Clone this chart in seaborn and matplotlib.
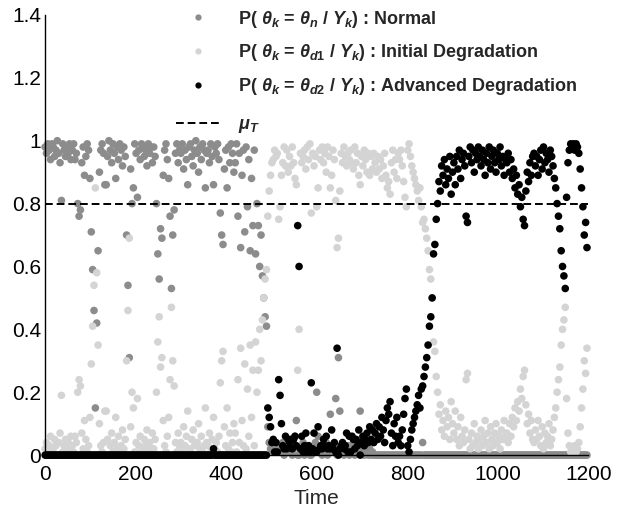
import numpy as np
import pandas as pd
import matplotlib
matplotlib.use("Agg")
import matplotlib.pyplot as plt
from matplotlib.lines import Line2D
from matplotlib.ticker import FuncFormatter
import seaborn as sns

# sampled time instants (one every 3 steps)
time = np.arange(0, 1200, 3)

# state probabilities in percent, one line = 20 samples = 60 time units
p_normal = [
    98, 96, 99, 97, 94, 99, 98, 95, 97, 100, 96, 93, 81, 99, 97, 95, 98, 96, 99, 94,
    97, 99, 94, 96, 80, 76, 78, 93, 98, 89, 95, 99, 97, 88, 71, 59, 46, 15, 42, 65,
    90, 97, 99, 96, 86, 86, 95, 100, 97, 93, 99, 96, 88, 98, 94, 99, 97, 92, 98, 95,
    70, 54, 31, 91, 80, 85, 99, 96, 82, 97, 94, 99, 98, 95, 97, 92, 99, 96, 98, 93,
    98, 95, 80, 64, 56, 72, 69, 89, 97, 99, 94, 88, 76, 53, 70, 78, 96, 99, 93, 97,
    96, 99, 91, 97, 94, 86, 98, 99, 95, 92, 97, 100, 96, 90, 98, 94, 99, 97, 85, 96,
    97, 93, 99, 95, 86, 98, 96, 99, 94, 77, 70, 67, 91, 97, 85, 98, 93, 99, 96, 90,
    93, 99, 76, 96, 66, 89, 97, 71, 98, 79, 94, 65, 88, 73, 97, 64, 80, 73, 60, 70,
    57, 50, 44, 41, 9, 4, 2, 3, 1, 2, 1, 3, 1, 2, 1, 4, 0, 2, 1, 5,
    1, 3, 0, 2, 6, 11, 0, 0, 2, 1, 4, 0, 2, 1, 3, 0, 0, 2, 1, 4,
    20, 6, 1, 3, 0, 2, 1, 4, 0, 2, 13, 3, 1, 2, 18, 0, 31, 14, 1, 3,
    0, 2, 1, 3, 0, 2, 1, 4, 0, 2, 1, 3, 14, 1, 2, 0, 1, 3, 0, 2,
    0, 1, 0, 0, 0, 0, 0, 0, 0, 0, 0, 0, 0, 0, 0, 0, 0, 0, 0, 0,
    0, 0, 0, 0, 0, 0, 0, 0, 0, 0, 0, 0, 0, 0, 0, 0, 0, 0, 4, 0,
    0, 0, 0, 0, 0, 0, 0, 0, 0, 0, 0, 0, 0, 0, 0, 0, 0, 0, 0, 0,
    0, 0, 0, 0, 0, 0, 0, 0, 0, 0, 0, 0, 0, 0, 0, 0, 0, 0, 0, 0,
    0, 0, 0, 0, 0, 0, 0, 0, 0, 0, 0, 0, 0, 0, 0, 0, 0, 0, 0, 0,
    0, 0, 0, 0, 0, 0, 0, 0, 0, 0, 0, 0, 0, 0, 0, 0, 0, 0, 0, 0,
    0, 0, 0, 0, 0, 0, 0, 0, 0, 0, 0, 0, 0, 0, 0, 0, 0, 0, 0, 0,
    0, 0, 0, 0, 0, 0, 0, 0, 0, 0, 0, 0, 0, 0, 0, 0, 0, 0, 0, 0,
]
p_initial = [
    2, 4, 1, 3, 6, 1, 2, 5, 3, 0, 4, 7, 19, 1, 3, 5, 2, 4, 1, 6,
    3, 1, 6, 4, 20, 24, 22, 7, 2, 11, 5, 1, 3, 12, 29, 41, 54, 85, 58, 35,
    10, 3, 1, 4, 14, 14, 5, 0, 3, 7, 1, 4, 12, 2, 6, 1, 3, 8, 2, 5,
    30, 46, 69, 9, 20, 15, 1, 4, 18, 3, 6, 1, 2, 5, 3, 8, 1, 4, 2, 7,
    2, 5, 20, 36, 44, 28, 31, 11, 3, 1, 6, 12, 24, 47, 30, 22, 4, 1, 7, 3,
    4, 1, 9, 3, 6, 14, 2, 1, 5, 8, 3, 0, 4, 10, 2, 6, 1, 3, 15, 4,
    3, 7, 1, 5, 12, 2, 4, 1, 6, 23, 30, 33, 9, 3, 15, 2, 7, 1, 4, 10,
    7, 1, 24, 4, 34, 11, 3, 29, 2, 21, 6, 35, 12, 27, 3, 36, 20, 27, 40, 30,
    43, 50, 56, 59, 76, 84, 89, 93, 94, 97, 95, 96, 75, 79, 89, 93, 98, 92, 97, 90,
    95, 92, 98, 93, 88, 86, 27, 40, 96, 93, 95, 97, 91, 98, 94, 99, 77, 96, 92, 95,
    79, 85, 97, 94, 98, 93, 96, 90, 98, 95, 85, 89, 97, 94, 81, 66, 69, 84, 96, 93,
    98, 95, 92, 96, 94, 97, 93, 91, 98, 93, 96, 89, 86, 95, 92, 97, 94, 90, 96, 89,
    95, 91, 96, 93, 90, 95, 91, 94, 88, 92, 96, 89, 85, 87, 83, 93, 97, 90, 94, 88,
    96, 94, 97, 92, 87, 82, 79, 97, 99, 95, 92, 90, 88, 86, 84, 81, 85, 79, 74, 75,
    72, 69, 65, 59, 56, 50, 36, 33, 25, 20, 13, 16, 8, 11, 6, 14, 9, 12, 5, 17,
    10, 7, 14, 5, 9, 3, 12, 6, 4, 8, 24, 26, 5, 2, 7, 3, 10, 4, 6, 2,
    5, 8, 3, 6, 11, 4, 7, 2, 9, 5, 3, 7, 10, 4, 6, 2, 8, 5, 11, 6,
    7, 4, 10, 6, 12, 9, 15, 11, 17, 14, 21, 18, 25, 27, 16, 10, 13, 7, 11, 5,
    4, 8, 5, 11, 6, 3, 9, 2, 7, 4, 6, 10, 3, 5, 8, 12, 15, 20, 24, 28,
    35, 40, 43, 47, 18, 7, 3, 1, 2, 1, 3, 1, 2, 4, 9, 15, 21, 30, 26, 34,
]
p_advanced = [
    0, 0, 0, 0, 0, 0, 0, 0, 0, 0, 0, 0, 0, 0, 0, 0, 0, 0, 0, 0,
    0, 0, 0, 0, 0, 0, 0, 0, 0, 0, 0, 0, 0, 0, 0, 0, 0, 0, 0, 0,
    0, 0, 0, 0, 0, 0, 0, 0, 0, 0, 0, 0, 0, 0, 0, 0, 0, 0, 0, 0,
    0, 0, 0, 0, 0, 0, 0, 0, 0, 0, 0, 0, 0, 0, 0, 0, 0, 0, 0, 0,
    0, 0, 0, 0, 0, 0, 0, 0, 0, 0, 0, 0, 0, 0, 0, 0, 0, 0, 0, 0,
    0, 0, 0, 0, 0, 0, 0, 0, 0, 0, 0, 0, 0, 0, 0, 0, 0, 0, 0, 0,
    0, 0, 0, 0, 2, 0, 0, 0, 0, 0, 0, 0, 0, 0, 0, 0, 0, 0, 0, 0,
    0, 0, 0, 0, 0, 0, 0, 0, 0, 0, 0, 0, 0, 0, 0, 0, 0, 0, 0, 0,
    0, 0, 0, 0, 15, 12, 9, 4, 5, 1, 4, 1, 24, 19, 10, 3, 2, 6, 2, 5,
    4, 5, 2, 5, 6, 3, 73, 60, 2, 6, 1, 3, 7, 1, 3, 1, 23, 2, 7, 1,
    1, 9, 2, 3, 2, 5, 3, 6, 2, 3, 2, 8, 2, 4, 1, 34, 0, 2, 3, 4,
    2, 3, 7, 1, 6, 1, 6, 5, 2, 5, 3, 8, 0, 4, 6, 3, 5, 7, 4, 9,
    5, 8, 4, 7, 10, 5, 9, 6, 12, 8, 4, 11, 15, 13, 17, 7, 3, 10, 6, 12,
    4, 6, 3, 8, 13, 18, 21, 3, 1, 5, 8, 10, 12, 14, 16, 19, 15, 21, 22, 25,
    28, 31, 35, 41, 44, 50, 64, 67, 75, 80, 87, 84, 92, 89, 94, 86, 91, 88, 95, 83,
    90, 93, 86, 95, 91, 97, 88, 94, 96, 92, 76, 74, 95, 98, 93, 97, 90, 96, 94, 98,
    95, 92, 97, 94, 89, 96, 93, 98, 91, 95, 97, 93, 90, 96, 94, 98, 92, 95, 89, 94,
    93, 96, 90, 94, 88, 91, 85, 89, 83, 86, 79, 82, 75, 73, 84, 90, 87, 93, 89, 95,
    96, 92, 95, 89, 94, 97, 91, 98, 93, 96, 94, 90, 97, 95, 92, 88, 85, 80, 76, 72,
    65, 60, 57, 53, 82, 93, 97, 99, 98, 99, 97, 99, 98, 96, 91, 85, 79, 70, 74, 66,
]

mu_T = 0.8

states = ["Normal", "Initial Degradation", "Advanced Degradation"]
colors = ["#8c8c8c", "#d4d4d4", "#000000"]
legend_labels = [
    r"P( $\theta_k$ = $\theta_n$ / $Y_k$) : Normal",
    r"P( $\theta_k$ = $\theta_{d1}$ / $Y_k$) : Initial Degradation",
    r"P( $\theta_k$ = $\theta_{d2}$ / $Y_k$) : Advanced Degradation",
]
mu_label = r"$\mu_T$"

# long table, normal first so the advanced (black) points end up on top
frames = []
for state, vals in zip(states, [p_normal, p_initial, p_advanced]):
    frames.append(pd.DataFrame({"Time": time, "P": np.array(vals) / 100.0, "State": state}))
df = pd.concat(frames, ignore_index=True)

sns.set_theme(style="white")
plt.rcParams["font.family"] = ["Liberation Sans", "DejaVu Sans"]
plt.rcParams["mathtext.fontset"] = "custom"
plt.rcParams["mathtext.it"] = "Liberation Sans:italic:bold"
plt.rcParams["mathtext.rm"] = "Liberation Sans:bold"
plt.rcParams["mathtext.bf"] = "Liberation Sans:bold"

fig = plt.figure(figsize=(6.18, 5.16), dpi=100)
ax = fig.add_axes([0.073, 0.118, 0.879, 0.853])

sns.scatterplot(
    data=df, x="Time", y="P", hue="State", hue_order=states, palette=colors,
    s=30, linewidth=0, legend=False, ax=ax, clip_on=False,
)
ax.axhline(mu_T, color="black", lw=1.4, ls="--", dashes=(4, 2), zorder=1)

ax.set_xlim(0, 1200)
ax.set_ylim(0, 1.4)
ax.set_xticks(np.arange(0, 1201, 200))
ax.set_yticks(np.arange(0, 1.41, 0.2))
ax.yaxis.set_major_formatter(FuncFormatter(lambda v, p: f"{v:g}"))
ax.tick_params(direction="in", length=4, width=1, labelsize=15, colors="black", pad=3)
ax.tick_params(axis="x", pad=7)
ax.set_xlabel("Time", fontsize=15, labelpad=4)
ax.set_ylabel("")
for side in ["top", "right"]:
    ax.spines[side].set_visible(False)
for side in ["left", "bottom"]:
    ax.spines[side].set_color("black")
    ax.spines[side].set_linewidth(1)

legend_font = {"weight": "bold", "size": 13}
handles = [
    Line2D([], [], ls="", marker="o", markersize=4.5, markeredgewidth=0, color=c)
    for c in colors
]
leg = ax.legend(
    handles, legend_labels, loc="upper left", bbox_to_anchor=(0.285, 0.983),
    bbox_transform=fig.transFigure, frameon=False, borderpad=0, borderaxespad=0,
    prop=legend_font, handlelength=2.45, handletextpad=0.95, labelspacing=0.7,
)
ax.add_artist(leg)
ax.legend(
    [Line2D([], [], color="black", lw=1.4, ls="--", dashes=(4, 2))], [mu_label],
    loc="upper left", bbox_to_anchor=(0.285, 0.775), bbox_transform=fig.transFigure,
    frameon=False, borderpad=0, borderaxespad=0, prop=legend_font,
    handlelength=2.45, handletextpad=0.95,
)

fig.savefig("out.png", dpi=100)
